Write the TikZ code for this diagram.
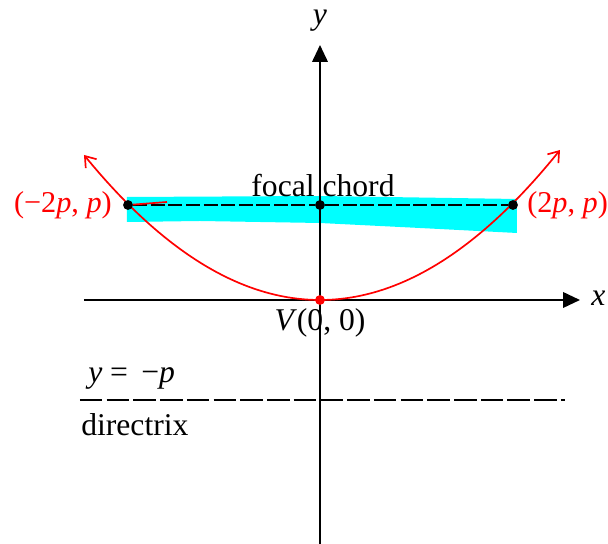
\documentclass[tikz,border=0pt]{standalone}
\usepackage{fontspec}
\setmainfont{Liberation Serif}
\usetikzlibrary{arrows.meta,calc,positioning}
\definecolor{marker}{RGB}{0,255,255}
\tikzset{lbl/.style={inner sep=0pt,font=\fontsize{22.5}{26}\selectfont},
  redlbl/.style={lbl,text=red,font=\fontsize{21.5}{25}\selectfont},
  dot/.style={circle,fill,inner sep=0pt,minimum size=7pt},
  axis/.style={line width=1.4pt,-{Triangle[length=12pt,width=11pt]}},
  curve/.style={red,line width=1.2pt,{Straight Barb[length=7pt,width=10pt]}-{Straight Barb[length=7pt,width=10pt]}}}

\begin{document}
\begin{tikzpicture}[x=0.025cm,y=0.025cm]
% 1 unit = 1 px of the reference, p = 96
\useasboundingbox (-320,-244) rectangle (288,300);
% highlight behind the chord
\fill[marker] (-193,103) -- (0,104) -- (197,101) -- (197,67) -- (100,72)
  -- (0,77) -- (-120,79) -- (-193,78) -- cycle;
% axes
\coordinate (xs) at (-236,0);
\coordinate (xe) at (260,0);
\coordinate (ys) at (0,-244);
\coordinate (ye) at (0,255);
\draw[axis] (xs) -- (xe);
\draw[axis] (ys) -- (ye);
\node[lbl,anchor=west] (xl) at (271,2) {\textit{x}};
\node[lbl] (yl) at (0,279) {\textit{y}};
% directrix y = -p
\coordinate (ds) at (-240,-100);
\coordinate (de) at (245,-100);
\draw[line width=1.3pt,dash pattern=on 16pt off 3pt] (ds) -- (de);
\node[lbl,anchor=base west] (dq) at (-232,-83) {\textit{y} =\, −\textit{p}};
\node[lbl,anchor=base west] (dn) at (-239,-136) {directrix};
% parabola x^2 = 4py
\draw[curve] plot[domain=-236:240,samples=90] ({\x},{(\x/24)*(\x/16)});
% focal chord
\node[dot] (L) at (-192,95) {};
\node[dot] (F) at (0,95) {};
\node[dot] (R) at (193,95) {};
\draw[line width=1.3pt,dash pattern=on 10pt off 2.5pt] (L) -- (F) -- (R);
\coordinate (tick) at (-153,98);
\draw[red,line width=1.2pt] (L) -- (tick);
\node[lbl,anchor=base] (fc) at (3,103) {focal chord};
% vertex
\node[dot,red] (V) at (0,0) {};
\node[lbl,anchor=base] (vl) at (0,-31) {\textit{V}(0, 0)};
\node[redlbl,anchor=east] (ll) at (-208,95) {(−2\textit{p}, \textit{p})};
\node[redlbl,anchor=west] (rl) at (207,95) {(2\textit{p}, \textit{p})};
\end{tikzpicture}
\end{document}
